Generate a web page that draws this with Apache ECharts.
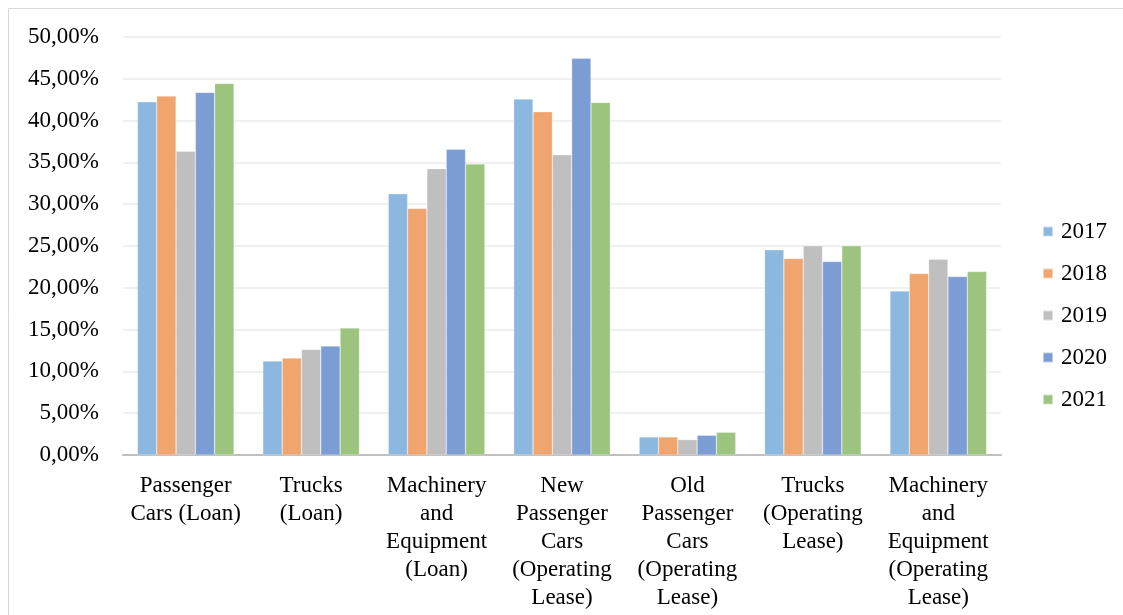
<!DOCTYPE html>
<html>
<head>
<meta charset="utf-8">
<script src="https://cdn.jsdelivr.net/npm/echarts@6/dist/echarts.min.js"></script>
<style>html,body{margin:0;padding:0;background:#fff}#c{width:1123px;height:615px}</style>
</head>
<body>
<div id="c"></div>
<script>
const categories = [
  "Passenger\nCars (Loan)",
  "Trucks\n(Loan)",
  "Machinery\nand\nEquipment\n(Loan)",
  "New\nPassenger\nCars\n(Operating\nLease)",
  "Old\nPassenger\nCars\n(Operating\nLease)",
  "Trucks\n(Operating\nLease)",
  "Machinery\nand\nEquipment\n(Operating\nLease)"
];
const years = ["2017", "2018", "2019", "2020", "2021"];
const v2017 = [42.24, 11.23, 31.25, 42.57, 2.16, 24.54, 19.63];
const v2018 = [42.93, 11.59, 29.50, 41.05, 2.16, 23.50, 21.70];
const v2019 = [36.33, 12.63, 34.25, 35.93, 1.84, 25.02, 23.42];
const v2020 = [43.37, 13.03, 36.57, 47.45, 2.36, 23.14, 21.34];
const v2021 = [44.45, 15.19, 34.81, 42.17, 2.72, 25.02, 21.94];
const colors = ["#8CB8E0", "#F0A46E", "#BFBFBF", "#7C9DD4", "#9DC47E"];

const seriesData = [v2017, v2018, v2019, v2020, v2021];
const font = "'Liberation Serif', 'Times New Roman', serif";

const chart = echarts.init(document.getElementById('c'));
chart.setOption({
  animation: false,
  color: colors,
  textStyle: { fontFamily: font },
  graphic: [{
    type: 'rect',
    shape: { x: 8.5, y: 8.5, width: 1200, height: 700 },
    style: { fill: 'none', stroke: '#D9D9D9', lineWidth: 1 },
    silent: true, z: -1
  }],
  grid: { left: 123, right: 122, top: 37, bottom: 160, containLabel: false },
  legend: {
    orient: 'vertical',
    left: 1042,
    top: 220,
    padding: 0,
    itemWidth: 10,
    itemHeight: 10,
    itemGap: 19,
    icon: 'rect',
    data: years,
    textStyle: { fontFamily: font, fontSize: 23, lineHeight: 20, color: '#000', padding: [0, 0, 0, 3] }
  },
  xAxis: {
    type: 'category',
    data: categories,
    axisLine: { lineStyle: { color: '#BFBFBF', width: 2 } },
    axisTick: { show: false },
    axisLabel: {
      interval: 0,
      color: '#000',
      fontFamily: font,
      fontSize: 23,
      lineHeight: 28,
      margin: 17,
      align: 'center'
    }
  },
  yAxis: {
    type: 'value',
    min: 0,
    max: 50,
    interval: 5,
    axisLine: { show: false },
    axisTick: { show: false },
    splitLine: { lineStyle: { color: '#EBEBEB', width: 1.5 } },
    axisLabel: {
      color: '#000',
      fontFamily: font,
      fontSize: 23,
      margin: 24,
      formatter: v => v.toFixed(2).replace('.', ',') + '%'
    }
  },
  series: years.map((y, i) => ({
    name: y,
    type: 'bar',
    data: seriesData[i],
    barGap: '0%',
    barCategoryGap: '23%',
    itemStyle: { color: colors[i], borderColor: 'rgba(255,255,255,0.5)', borderWidth: 0.5 }
  }))
});
</script>
</body>
</html>
